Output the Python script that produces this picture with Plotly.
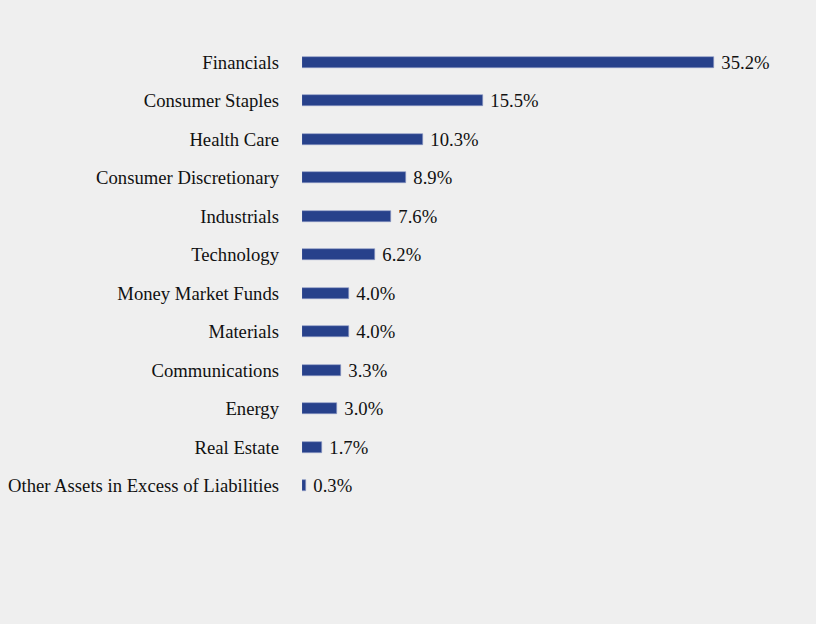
import plotly.graph_objects as go

# Sector allocation (% of net assets)
SECTORS = [
    "Financials",
    "Consumer Staples",
    "Health Care",
    "Consumer Discretionary",
    "Industrials",
    "Technology",
    "Money Market Funds",
    "Materials",
    "Communications",
    "Energy",
    "Real Estate",
    "Other Assets in Excess of Liabilities",
]
WEIGHTS = [35.2, 15.5, 10.3, 8.9, 7.6, 6.2, 4.0, 4.0, 3.3, 3.0, 1.7, 0.3]
# leading no-break space gives the value labels a little room off the bar end
LABELS = [f"\u00a0{w:.1f}%" for w in WEIGHTS]

BAR_COLOR = "#27418b"
BG = "#efefef"
FONT = "Liberation Serif, Times New Roman, serif"
FONT_SIZE = 18.67  # 14pt

fig = go.Figure(go.Bar(
    x=WEIGHTS,
    y=SECTORS,
    orientation="h",
    marker=dict(color=BAR_COLOR, line=dict(color="#8d9bc4", width=0.6)),
    width=0.29,
    text=LABELS,
    textposition="outside",
    constraintext="none",
    cliponaxis=False,
    textfont=dict(family=FONT, size=FONT_SIZE, color="#111111"),
    hoverinfo="skip",
))

fig.update_layout(
    width=816, height=624,
    paper_bgcolor=BG, plot_bgcolor=BG,
    margin=dict(l=302, r=46, t=43, b=119),
    showlegend=False,
    bargap=0.0,
    font=dict(family=FONT, size=FONT_SIZE, color="#111111"),
)
fig.update_xaxes(range=[0, 40], visible=False, automargin=False)
fig.update_yaxes(
    autorange="reversed", automargin=False,
    showgrid=False, zeroline=False, showline=False,
    ticks="", ticklabelstandoff=22,
    tickfont=dict(family=FONT, size=FONT_SIZE, color="#111111"),
)

# drop the default page margin so the chart sits flush in the window
fig.write_html(
    "out.html",
    config={"displayModeBar": False},
    post_script="document.body.style.margin='0';",
)
